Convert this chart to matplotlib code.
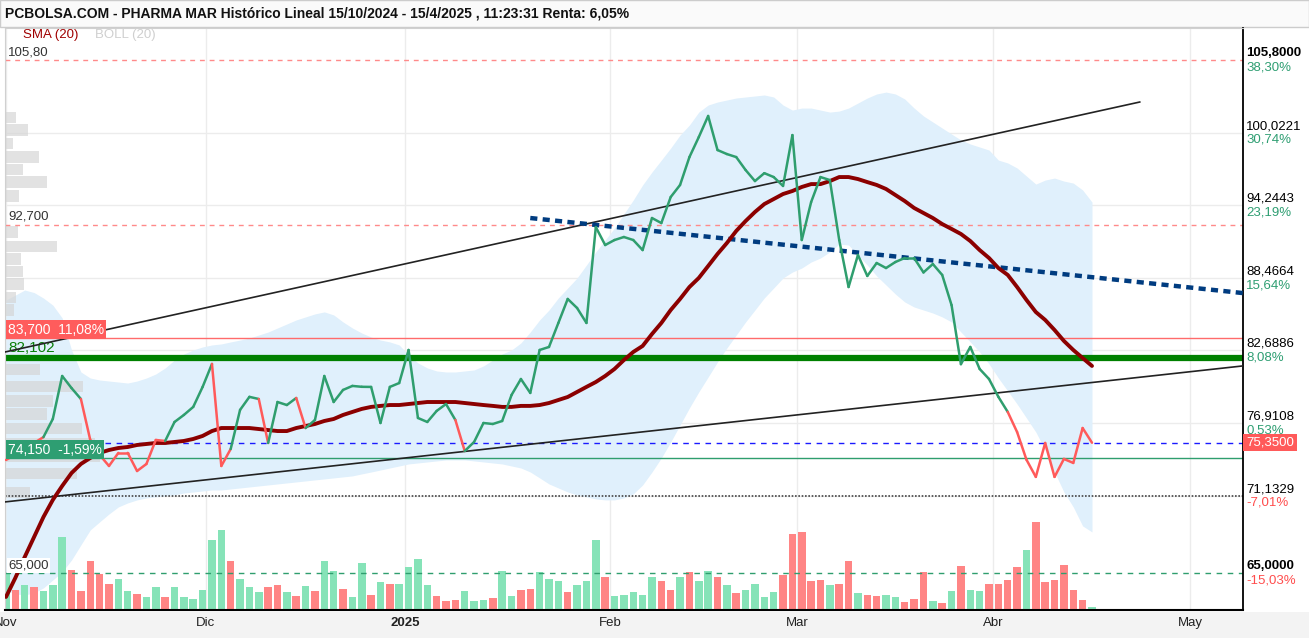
import numpy as np
import matplotlib
matplotlib.use("Agg")
import matplotlib.pyplot as plt
import matplotlib.transforms as mtransforms
from matplotlib.collections import LineCollection
from matplotlib.patches import Rectangle

plt.rcParams['font.family'] = ['Liberation Sans', 'DejaVu Sans']

# cierres diarios, una sesion por punto (1 nov 2024 .. 15 abr 2025)
precio = [73.98, 74.4, 74.85, 75.33, 75.8, 77.24, 80.66, 79.7, 78.83, 75.57,
          74.38, 73.5, 74.54, 74.54, 73.1, 73.66, 75.57, 75.49, 77.0, 77.56,
          78.2, 79.79, 81.62, 73.5, 74.85, 77.96, 79.0, 78.83, 75.33, 78.59,
          78.35, 78.91, 76.52, 77.16, 80.66, 78.59, 79.55, 79.87, 79.8, 79.79,
          76.92, 79.79, 80.1, 82.73, 77.32, 77.0, 77.88, 78.43, 77.16, 74.69,
          75.41, 76.92, 76.84, 77.08, 79.15, 80.42, 79.31, 82.73, 82.97, 84.88,
          86.79, 86.07, 84.88, 92.51, 91.08, 91.48, 91.72, 91.48, 90.68, 93.23,
          92.83, 94.9, 95.86, 98.08, 99.67, 101.35, 98.64, 98.32, 98.08, 97.05,
          96.17, 96.8, 96.49, 95.78, 99.83, 91.48, 94.5, 96.49, 96.25, 91.48,
          87.74, 90.29, 88.62, 89.65, 89.25, 89.73, 90.05, 90.05, 88.9, 89.57,
          88.7, 86.3, 81.6, 82.97, 81.22, 80.42, 79.0, 77.8, 76.2, 74.0,
          72.63, 75.33, 72.63, 74.06, 73.74, 76.52, 75.35]

# color de cada tramo de la linea (g verde, r rojo)
tramos = "rrrrggggrrrrrrrrrgggggrrgggrgggr" + "g" * 16 + "r" + "g" * 58 + "r" * 9

sma20 = [63.08, 64.6, 66.26, 67.85, 69.44, 70.8, 71.91, 72.94, 73.66, 74.14,
         74.54, 74.77, 74.93, 75.01, 75.17, 75.25, 75.33, 75.33, 75.41, 75.49,
         75.65, 75.89, 76.28, 76.52, 76.52, 76.52, 76.52, 76.44, 76.36, 76.28,
         76.28, 76.52, 76.68, 76.84, 77.08, 77.24, 77.56, 77.8, 78.04, 78.2,
         78.28, 78.35, 78.35, 78.43, 78.51, 78.59, 78.59, 78.59, 78.59, 78.51,
         78.43, 78.35, 78.28, 78.2, 78.2, 78.28, 78.28, 78.35, 78.51, 78.75,
         78.99, 79.39, 79.79, 80.18, 80.66, 81.22, 81.93, 82.57, 83.05, 84.0,
         84.88, 85.91, 86.79, 87.74, 88.46, 89.41, 90.37, 91.24, 92.2, 92.99,
         93.71, 94.34, 94.74, 95.14, 95.38, 95.7, 95.93, 95.93, 96.17, 96.49,
         96.49, 96.33, 96.09, 95.86, 95.54, 95.06, 94.58, 94.03, 93.63, 93.23,
         92.75, 92.36, 91.96, 91.4, 90.68, 90.05, 89.25, 88.7, 87.74, 86.71,
         85.75, 85.12, 84.32, 83.45, 82.73, 82.09, 81.46]

boll_sup = [86.71, 87.1, 87.5, 87.3, 86.86, 86.3, 85.28, 82.73, 80.98, 80.5,
            80.34, 80.26, 80.18, 80.1, 80.26, 80.5, 80.82, 81.3, 81.93, 82.41,
            82.73, 82.97, 83.13, 83.21, 83.37, 83.52, 83.68, 83.92, 84.16, 84.48,
            84.8, 85.12, 85.36, 85.6, 85.76, 85.52, 84.96, 84.48, 84.08, 83.76,
            83.52, 83.37, 83.13, 82.33, 81.7, 81.3, 81.06, 80.98, 80.98, 81.06,
            81.14, 81.46, 81.93, 82.41, 82.73, 83.29, 84.16, 85.12, 85.91, 86.87,
            87.66, 88.46, 89.49, 90.53, 91.48, 92.44, 93.55, 94.66, 95.86, 96.89,
            97.84, 98.8, 99.83, 100.63, 101.66, 102.22, 102.46, 102.62, 102.78, 102.86,
            102.94, 103.02, 102.86, 102.22, 101.82, 101.98, 101.98, 101.82, 101.66, 101.74,
            101.98, 102.38, 102.78, 103.1, 103.25, 103.1, 102.7, 101.98, 101.35, 100.87,
            100.39, 99.91, 99.44, 99.12, 98.88, 98.64, 97.84, 97.61, 97.21, 96.57,
            95.93, 96.25, 96.41, 96.17, 96.01, 95.46, 94.5]

boll_inf = [63.64, 63.32, 63.24, 63.4, 63.8, 64.43, 65.07, 66.02, 67.22, 68.41,
            69.05, 69.68, 70.24, 70.56, 70.8, 70.96, 71.04, 71.12, 71.2, 71.35,
            71.43, 71.51, 71.59, 71.59, 71.67, 71.75, 71.83, 71.91, 71.99, 72.07,
            72.15, 72.23, 72.31, 72.39, 72.47, 72.55, 72.63, 72.71, 72.87, 73.02,
            73.18, 73.34, 73.5, 73.66, 73.74, 73.82, 73.9, 73.98, 73.98, 73.98,
            73.9, 73.82, 73.74, 73.66, 73.5, 73.34, 73.02, 72.55, 72.07, 71.75,
            71.43, 71.2, 71.04, 70.88, 70.8, 70.8, 70.96, 71.28, 71.99, 73.02,
            74.14, 75.41, 76.76, 78.12, 79.39, 80.58, 81.78, 82.89, 83.92, 84.96,
            85.91, 86.87, 87.66, 88.46, 88.93, 89.25, 89.73, 90.05, 90.53, 91.16,
            91.08, 90.29, 89.49, 88.62, 87.9, 87.18, 86.55, 86.15, 85.91, 85.67,
            85.36, 84.96, 84.16, 83.37, 82.57, 81.62, 80.5, 79.47, 78.43, 77.32,
            76.2, 74.77, 73.02, 71.43, 70.24, 68.73, 68.25]

# volumen relativo y color de cada vela
volumen = [36.7, 20, 25, 22.7, 19.3, 25, 72.7, 40, 19.3, 49,
           36, 26, 31, 18.7, 16, 12.7, 23.3, 12.7, 22.7, 12.7,
           11, 20, 70, 80, 49, 31, 22.7, 17.7, 22.7, 25,
           17.7, 13.7, 23.7, 18.7, 49, 39.3, 21, 12.7, 46.7, 15,
           27.7, 26, 26, 42.7, 51, 25, 13.7, 8.7, 10.3, 19.3,
           8.7, 10.3, 11.7, 39.3, 13.7, 20, 21, 37.7, 31, 28.7,
           17.7, 25, 29.3, 70, 32.7, 13.7, 15, 17.7, 15, 33,
           28.7, 20, 33.3, 37.7, 28.7, 39, 33.3, 25, 17, 20,
           26, 12.7, 17.7, 34.7, 76, 77.7, 28.7, 30, 25, 26,
           48.7, 17.3, 15, 13.7, 15, 12.7, 7.7, 11, 37.7, 8.7,
           7, 19.3, 43.7, 20, 19.3, 26, 26, 30, 42.7, 60.3,
           87.7, 27.7, 30, 45, 20, 10.3, 2.7]
vol_color = ("grgrgggrrr" "rrggrgg rgg".replace(" ", "") + "ggggrgggrr" + "grgrggrggr"
             + "grggggrrrg" + "gg" + "rggrr" + "gggrg" + "ggrg" + "ggggrrgrg" + "grgrggggr"
             + "rrrrgrrgrr" + "ggrrrgrgrg" + "gr" + "rrrgrrrrrr" + "grgrgr")

# perfil de volumen por precio (izquierda)
perfil_precio = [101.23, 100.23, 99.16, 98.08, 97.09, 96.09, 94.98, 92.12, 90.96, 89.97,
                 88.97, 87.98, 86.91, 85.9, 81.18, 79.83, 78.67, 77.64, 76.48, 75.3,
                 74.3, 72.9, 71.4]
perfil_vol = [11, 23, 8, 34, 18, 42, 14, 13, 52, 16,
              18, 19, 11, 9, 35, 78, 48, 42, 77, 90,
              95, 72, 25]

# lineas de tendencia dibujadas (sesion, precio)
tend_sup_x, tend_sup_y = [-0.1, 121.1], [82.57, 102.46]
tend_inf_x, tend_inf_y = [-0.1, 132.1], [70.64, 81.46]
tend_azul_x, tend_azul_y = [56.0, 132.1], [93.23, 87.26]

# eje derecho
eje_valores = [105.8, 100.0221, 94.2443, 88.4664, 82.6886, 76.9108, 71.1329, 65.0]
eje_textos = ["105,8000", "100,0221", "94,2443", "88,4664", "82,6886", "76,9108", "71,1329", "65,0000"]
eje_pct = ["38,30%", "30,74%", "23,19%", "15,64%", "8,08%", "0,53%", "-7,01%", "-15,03%"]

meses_pos = [0.0, 21.36, 42.6, 64.5, 84.5, 105.4, 126.5]
meses = ["Nov", "Dic", "2025", "Feb", "Mar", "Abr", "May"]

VERDE = '#2f9e6e'
ROJO = '#ff5a5a'

W, H = 1309, 638
fig = plt.figure(figsize=(W / 100, H / 100), dpi=100)
pos = [5 / W, 28 / H, 1238 / W, 582 / H]

ax_b = fig.add_axes(pos)
ax_v = fig.add_axes(pos, sharex=ax_b)
ax = fig.add_axes(pos, sharex=ax_b, sharey=ax_b)
for a in (ax_v, ax):
    a.patch.set_visible(False)
ax_b.axis('off')
ax_v.axis('off')

n = len(precio)
x = np.arange(n)

ax.set_xlim(-0.107, 132.13)
ax.set_ylim(62.04, 108.35)
ax_v.set_ylim(0, 582)

# rejilla
for p in meses_pos:
    ax_b.axvline(p, color='#ececec', lw=1, zorder=0)
for v in eje_valores[1:-1]:
    ax_b.axhline(v, color='#ececec', lw=1, zorder=0)

# bandas de bollinger
ax_b.fill_between(x, boll_inf, boll_sup, color='#e0f0fc', lw=0, zorder=1)

# perfil
ax_b.barh(perfil_precio, np.array(perfil_vol) / 9.362, left=-0.107, height=0.9,
          color='#d6d6d6', alpha=0.7, zorder=2)

# volumen
ax_v.bar(x, volumen, width=0.8,
         color=['#86e3b8' if c == 'g' else '#ff8585' for c in vol_color], zorder=1)

# lineas horizontales
ax.axhline(105.8, color='#ff8a8a', lw=1, ls=(0, (3.5, 3.5)), zorder=2)
ax.axhline(92.7, color='#ff8a8a', lw=1, ls=(0, (3.5, 3.5)), zorder=2)
ax.axhline(83.7, color='#ff6b6b', lw=1, zorder=2)
ax.axhline(82.102, color='#008000', lw=4.5, zorder=2)
ax.axhline(75.35, color='#1a1aff', lw=1, ls=(0, (4, 4)), zorder=2)
ax.axhline(74.15, color=VERDE, lw=1, zorder=2)
ax.axhline(71.1329, color='#444444', lw=1.2, ls=(0, (1, 1)), zorder=2)
ax.axhline(65.0, color=VERDE, lw=1, ls=(0, (4, 4)), zorder=2)

# tendencias
ax.plot(tend_sup_x, tend_sup_y, color='#222222', lw=1.2, zorder=3)
ax.plot(tend_inf_x, tend_inf_y, color='#222222', lw=1.2, zorder=3)
ax.plot(tend_azul_x, tend_azul_y, color='#003c80', lw=3.2, ls=(0, (1.6, 1.2)), zorder=3)

# SMA
ax.plot(x, sma20, color='#8b0000', lw=2.8, zorder=4, solid_capstyle='round')

# precio
pts = np.column_stack([x, precio])
segs = np.stack([pts[:-1], pts[1:]], axis=1)
lc = LineCollection(segs, colors=[VERDE if c == 'g' else ROJO for c in tramos],
                    linewidths=1.8, zorder=5, capstyle='round', joinstyle='round')
ax.add_collection(lc)

# etiquetas izquierda
tl = mtransforms.blended_transform_factory(ax.transAxes, ax.transData)
ax.text(0.0025, 105.95, "105,80", transform=tl, fontsize=9.5, color='#333333', va='bottom', zorder=6)
ax.text(0.0025, 92.85, "92,700", transform=tl, fontsize=9.5, color='#333333', va='bottom', zorder=6)
ax.text(0.0025, 83.8, "83,700  11,08%", transform=tl, fontsize=10, color='white', va='bottom', zorder=6,
        bbox=dict(boxstyle='square,pad=0.15', fc='#ff5c5c', ec='none'))
ax.text(0.0025, 82.32, "82,102", transform=tl, fontsize=11, color='#0a800a', va='bottom', zorder=2)
ax.text(0.0025, 74.25, "74,150  -1,59%", transform=tl, fontsize=10, color='white', va='bottom', zorder=6,
        bbox=dict(boxstyle='square,pad=0.15', fc='#2e9e72', ec='none'))
ax.text(0.0025, 65.1, "65,000", transform=tl, fontsize=9.5, color='#333333', va='bottom', zorder=6,
        bbox=dict(boxstyle='square,pad=0.1', fc='white', ec='none'))

# eje derecho
for v, t, p in zip(eje_valores, eje_textos, eje_pct):
    bold = 'bold' if t in ("105,8000", "65,0000") else 'normal'
    ax.text(1.0025, v + 0.05, t, transform=tl, fontsize=9.5, color='black', va='bottom',
            fontweight=bold, clip_on=False)
    ax.text(1.0025, v - 0.1, p, transform=tl, fontsize=9.5, va='top', clip_on=False,
            color='#ff4d4d' if p.startswith('-') else '#2e9e72')
ax.text(1.0025, precio[-1], "75,3500", transform=tl, fontsize=9.5, color='white', va='center',
        clip_on=False, zorder=7, bbox=dict(boxstyle='square,pad=0.2', fc='#ff5a5a', ec='none'))

# eje x
ax.set_xticks(meses_pos, meses)
ax.tick_params(axis='x', length=0, pad=5, labelsize=9.5, labelcolor='#222222')
ax.get_xticklabels()[2].set_fontweight('bold')
ax.set_yticks([])
ax.spines['right'].set_color('black')
ax.spines['right'].set_linewidth(1.3)
ax.spines['bottom'].set_color('black')
ax.spines['bottom'].set_linewidth(1.5)
ax.spines['left'].set_color('#d0d0d0')
ax.spines['top'].set_color('#d0d0d0')

# barras de titulo y pie
fig.add_artist(Rectangle((0, 1 - 27 / H), 1, 27 / H, transform=fig.transFigure,
                         fc='#fafafa', ec='#cccccc', lw=1, zorder=-1))
fig.add_artist(Rectangle((0, 0), 1, 26 / H, transform=fig.transFigure,
                         fc='#f3f3f3', ec='none', zorder=-1))
fig.text(5 / W, 1 - 14 / H,
         "PCBOLSA.COM - PHARMA MAR Histórico Lineal 15/10/2024 - 15/4/2025 , 11:23:31 Renta: 6,05%",
         fontsize=10, fontweight='bold', va='center', color='#111111')
fig.text(23 / W, 1 - 35 / H, "SMA (20)", fontsize=9.5, color='#a00000', va='center',
         family=['Liberation Sans Narrow', 'Liberation Sans'])
fig.text(95 / W, 1 - 35 / H, "BOLL (20)", fontsize=9.5, color='#cfcfcf', va='center',
         family=['Liberation Sans Narrow', 'Liberation Sans'])

fig.savefig("out.png", dpi=100)
